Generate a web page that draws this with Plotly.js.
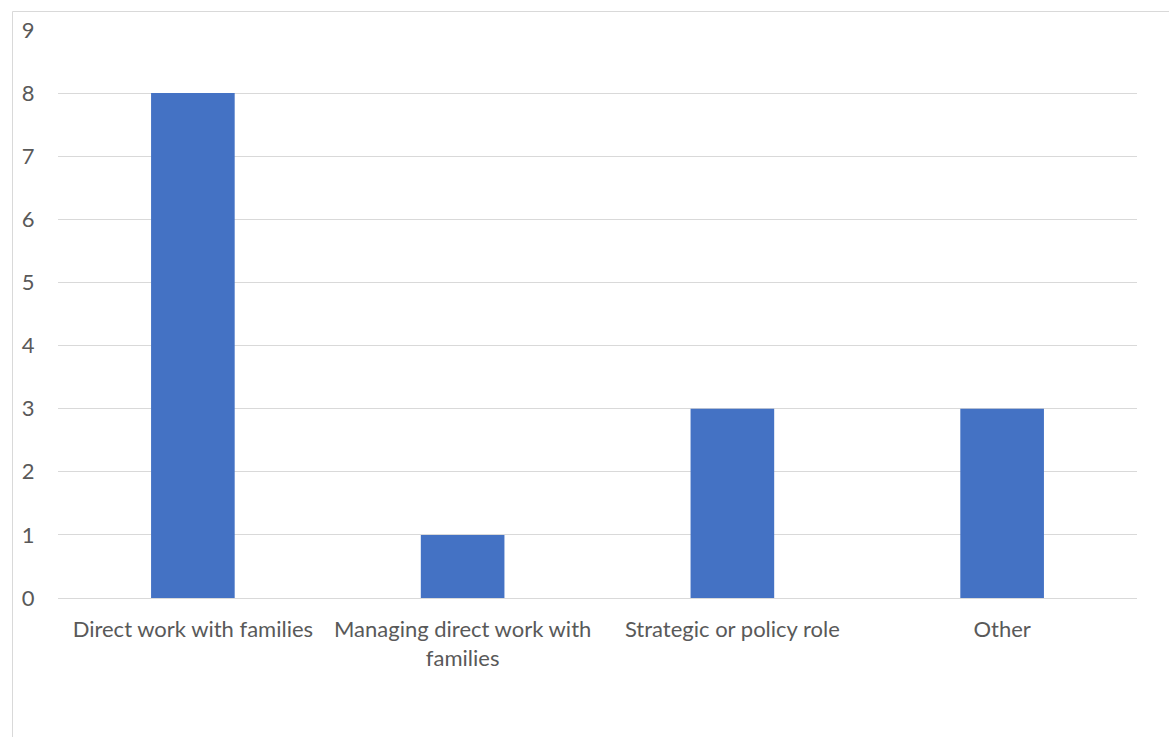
<!DOCTYPE html>
<html>
<head>
<meta charset="utf-8">
<script src="https://cdn.plot.ly/plotly-3.0.1.min.js"></script>
<style>html,body{margin:0;padding:0;background:#fff;}#chart{width:1169px;height:737px;}</style>
</head>
<body>
<div id="chart"></div>
<script>
const categories = ["Direct work with families", "Managing direct work with<br>families", "Strategic or policy role", "Other"];
const values = [8, 1, 3, 3];
const yTicks = [0, 1, 2, 3, 4, 5, 6, 7, 8, 9];

const W = 1169, H = 737;
const m = {l: 58, r: 32, t: 30, b: 139};
const pw = W - m.l - m.r, ph = H - m.t - m.b;
const px = x => (x - m.l) / pw;
const py = y => (H - m.b - y) / ph;

const trace = {
  type: 'bar',
  x: categories,
  y: values,
  marker: {color: '#4472C4'},
  hoverinfo: 'x+y'
};

const layout = {
  width: W, height: H,
  margin: m,
  paper_bgcolor: '#fff', plot_bgcolor: '#fff',
  bargap: 0.69,
  showlegend: false,
  font: {family: 'Lato, Open Sans, sans-serif', size: 22, color: '#595959'},
  xaxis: {
    type: 'category',
    showgrid: false,
    showline: true, linecolor: '#D9D9D9', linewidth: 1,
    ticks: 'outside', ticklen: 12, tickcolor: 'rgba(0,0,0,0)',
    tickfont: {size: 22, color: '#595959'},
    zeroline: false, fixedrange: true
  },
  yaxis: {
    range: [0, 9],
    tickvals: yTicks,
    showgrid: true, gridcolor: '#D9D9D9', gridwidth: 1,
    showline: false, zeroline: false,
    ticks: 'outside', ticklen: 18, tickcolor: 'rgba(0,0,0,0)',
    tickfont: {size: 22, color: '#595959'},
    fixedrange: true
  },
  shapes: [
    {type: 'line', xref: 'paper', yref: 'paper', x0: px(12.5), x1: px(12.5), y0: py(737), y1: py(11.5), line: {color: '#D9D9D9', width: 1}},
    {type: 'line', xref: 'paper', yref: 'paper', x0: px(12.5), x1: px(1169), y0: py(11.5), y1: py(11.5), line: {color: '#D9D9D9', width: 1}}
  ]
};

Plotly.newPlot('chart', [trace], layout, {displayModeBar: false, staticPlot: false});
</script>
</body>
</html>
